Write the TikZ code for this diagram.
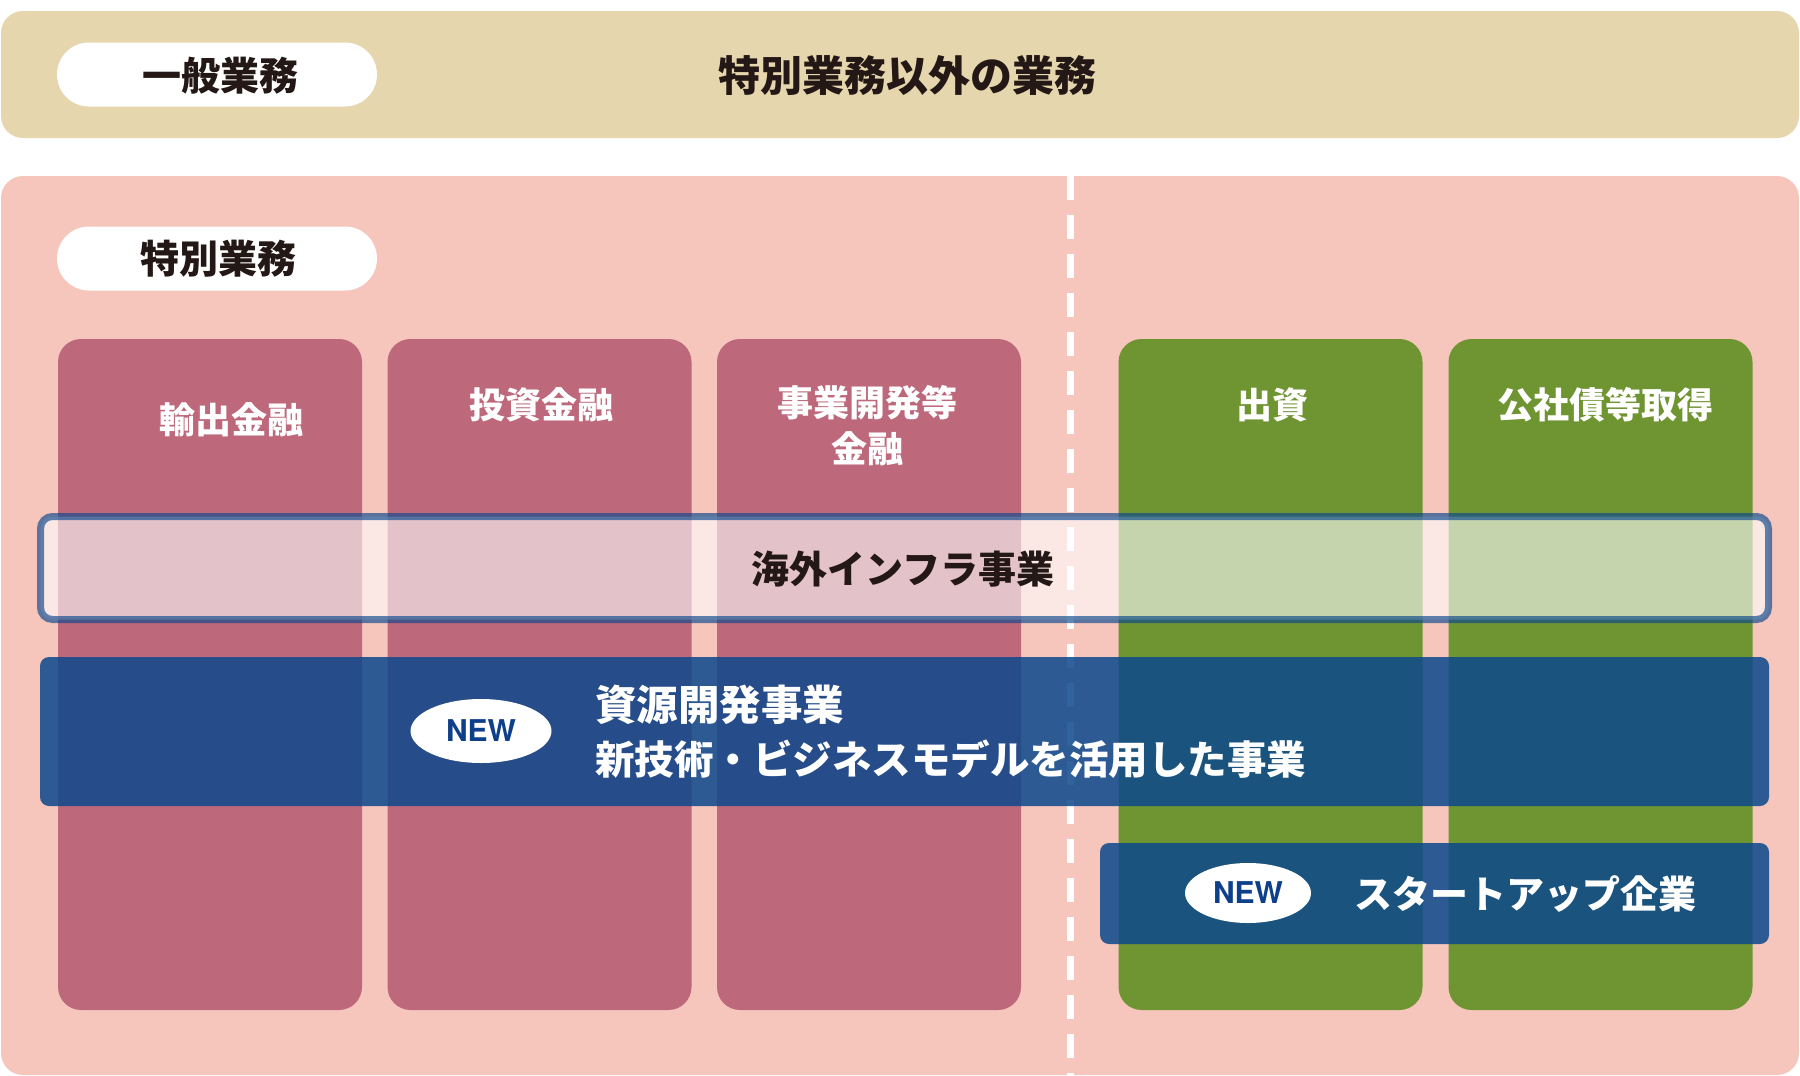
\documentclass[tikz,border=0pt]{standalone}
\usepackage{fontspec}
\newfontfamily\jp{Noto Sans CJK JP}
\newfontfamily\lat{TeX Gyre Heros}
\usetikzlibrary{shapes.geometric}
\definecolor{topband}{HTML}{E6D6AE}
\definecolor{pinkbg}{HTML}{F6C6BC}
\definecolor{colred}{HTML}{BD687B}
\definecolor{colgreen}{HTML}{6F9432}
\definecolor{bandblue}{RGB}{12,72,140}
\definecolor{newblue}{HTML}{0E3F8A}
\definecolor{txt}{HTML}{231815}
\tikzset{
  pill/.style={fill=white, rounded corners=32, minimum width=320, minimum height=64, inner sep=0},
  colbox/.style={rounded corners=23, minimum width=304, minimum height=671, inner sep=0},
  redcol/.style={colbox, fill=colred},
  greencol/.style={colbox, fill=colgreen},
  lbl/.style={font=\jp\bfseries\fontsize{36}{46}\selectfont, text=white, align=center, inner sep=0},
  darklbl/.style={font=\jp\bfseries\fontsize{#1}{#1}\selectfont, text=txt, inner sep=0},
  whitelbl/.style={font=\jp\bfseries\fontsize{#1}{#1}\selectfont, text=white, inner sep=0},
  newtag/.style={ellipse, fill=white, inner sep=0, font=\lat\bfseries\fontsize{30}{30}\selectfont, text=newblue},
  blueband/.style={fill=bandblue, fill opacity=0.85, text opacity=1, rounded corners=9, inner sep=0},
}
\begin{document}
\begin{tikzpicture}[x=1pt,y=-1pt]
\useasboundingbox (0,0) rectangle (1800,1076);
% top band
\node[fill=topband, rounded corners=22, minimum width=1798, minimum height=127, inner sep=0] (top) at (900,74.5) {};
\node[pill] (pill1) at (217,74.5) {};
\node[darklbl=39] (pill1t) at (220,76) {一般業務};
\node[darklbl=42] (toptext) at (907,76) {特別業務以外の業務};
% pink background
\node[fill=pinkbg, rounded corners=22, minimum width=1798, minimum height=899, inner sep=0] (pink) at (900,625.5) {};
\coordinate (dtop) at (1070,176);
\coordinate (dbot) at (1070,1076);
\draw[white, line width=7, dash pattern=on 24pt off 15pt] (dtop) -- (dbot);
\node[pill] (pill2) at (217,258.5) {};
\node[darklbl=39] (pill2t) at (218,259) {特別業務};
% columns
\node[redcol] (c1) at (210,674.5) {};
\node[redcol] (c2) at (539.5,674.5) {};
\node[redcol] (c3) at (869,674.5) {};
\node[greencol] (c4) at (1270.5,674.5) {};
\node[greencol] (c5) at (1600.5,674.5) {};
\node[lbl] (c1t) at (231,420) {輸出金融};
\node[lbl] (c2t) at (541,405) {投資金融};
\node[lbl, anchor=north] (c3t) at (867,385) {事業開発等\\金融};
\node[lbl] (c4t) at (1272,405) {出資};
\node[lbl] (c5t) at (1605,405) {公社債等取得};
% infra band
\node[fill=white, fill opacity=0.6, draw=bandblue, draw opacity=0.66, line width=7, rounded corners=12, minimum width=1728, minimum height=103, inner sep=0] (infra) at (904.5,568) {};
\node[darklbl=38] (infrat) at (903,569) {海外インフラ事業};
% resource band
\node[blueband, minimum width=1729, minimum height=149] (res) at (904.5,731.5) {};
\node[newtag, minimum width=141, minimum height=64] (new1) at (481,731) {NEW};
\node[whitelbl=41.5, anchor=west] (res1) at (595,705) {資源開発事業};
\node[whitelbl=39.5, anchor=west] (res2) at (595,759) {新技術・ビジネスモデルを活用した事業};
% startup band
\node[blueband, minimum width=669, minimum height=101] (start) at (1434.5,893.5) {};
\node[newtag, minimum width=126, minimum height=60] (new2) at (1248,893) {NEW};
\node[whitelbl=38] (startt) at (1525,894) {スタートアップ企業};
\end{tikzpicture}
\end{document}
